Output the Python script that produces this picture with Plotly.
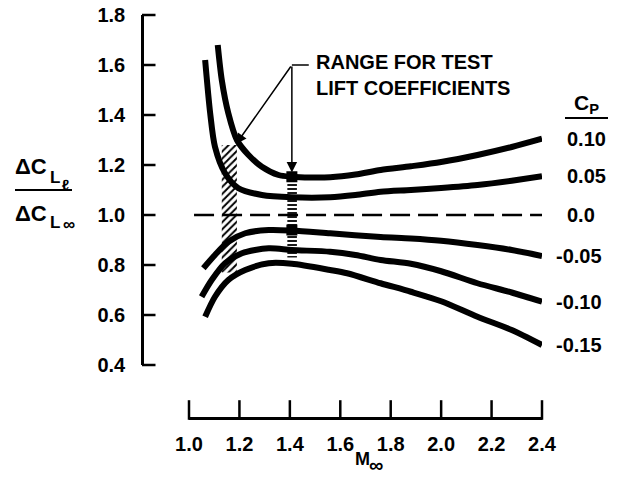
import plotly.graph_objects as go

# ---------------- data ----------------
cp_labels = ["0.10", "0.05", "-0.05", "-0.10", "-0.15"]

mach_a = [1.114, 1.13, 1.156, 1.19, 1.236, 1.289, 1.355, 1.408, 1.48, 1.56, 1.66, 1.76, 1.88, 2.0, 2.144, 2.28, 2.4]
ratio_a = [1.68, 1.54, 1.407, 1.30, 1.24, 1.193, 1.16, 1.153, 1.15, 1.151, 1.162, 1.18, 1.195, 1.212, 1.24, 1.272, 1.305]

mach_b = [1.064, 1.084, 1.103, 1.143, 1.196, 1.289, 1.408, 1.56, 1.66, 1.76, 1.88, 2.0, 2.144, 2.28, 2.4]
ratio_b = [1.62, 1.407, 1.273, 1.167, 1.107, 1.08, 1.071, 1.071, 1.08, 1.093, 1.10, 1.108, 1.12, 1.137, 1.155]

mach_c = [1.057, 1.103, 1.156, 1.223, 1.316, 1.408, 1.56, 1.76, 1.88, 2.0, 2.144, 2.28, 2.4]
ratio_c = [0.787, 0.84, 0.893, 0.927, 0.94, 0.938, 0.927, 0.912, 0.906, 0.897, 0.88, 0.86, 0.836]

mach_d = [1.05, 1.09, 1.143, 1.21, 1.316, 1.408, 1.56, 1.66, 1.76, 1.88, 2.0, 2.144, 2.28, 2.4]
ratio_d = [0.673, 0.74, 0.807, 0.847, 0.867, 0.86, 0.853, 0.84, 0.82, 0.805, 0.775, 0.727, 0.69, 0.653]

mach_e = [1.064, 1.103, 1.156, 1.223, 1.316, 1.408, 1.56, 1.627, 1.76, 1.88, 2.0, 2.144, 2.28, 2.4]
ratio_e = [0.593, 0.673, 0.74, 0.78, 0.807, 0.805, 0.78, 0.767, 0.727, 0.693, 0.655, 0.593, 0.54, 0.48]

ref_x = [1.02, 2.4]
ref_y = [1.0, 1.0]

# hatched bands (range for test lift coefficients)
diag_band_x = [1.13, 1.19, 1.19, 1.13, 1.13]
diag_band_y = [0.77, 0.77, 1.28, 1.28, 0.77]
horiz_band_x = [1.39, 1.428, 1.428, 1.39, 1.39]
horiz_band_y = [0.83, 0.83, 1.15, 1.15, 0.83]
square_x = [1.408, 1.408]
square_y = [1.153, 0.94]

apex = (1.408, 1.6)
leader_end_x = 1.475
tip_diag = (1.187, 1.284)
tip_vert = (1.408, 1.17)

x_ticks = [1.0, 1.2, 1.4, 1.6, 1.8, 2.0, 2.2, 2.4]
y_ticks = [0.4, 0.6, 0.8, 1.0, 1.2, 1.4, 1.6, 1.8]

# ---------------- layout geometry (screen pixels; page body has an 8px margin) ----------------
OFF = 8
W, H = 625 - OFF, 483 - OFF
X_LEFT, X_RIGHT = 189, 542          # screen px of M = 1.0 and 2.4
Y_AXIS_X = 142                       # screen px of the vertical axis line
Y_TOP, Y_04, X_AXIS_Y = 15, 365, 417  # screen px of 1.8, 0.4 and the horizontal axis line
TICK_LEN = 14
ML = Y_AXIS_X - OFF
MR = W - (X_RIGHT - OFF)
MT = Y_TOP - OFF
MB = H - (X_AXIS_Y - OFF)
PW, PH = W - ML - MR, H - MT - MB


def px(xp):
    return (xp - OFF - ML) / PW


def py(yp):
    return (H - MB - (yp - OFF)) / PH


y_per_px = (1.8 - 0.4) / (Y_04 - Y_TOP)
y_bottom = 0.4 - (X_AXIS_Y - Y_04) * y_per_px
y2_lo, y2_hi = y_ticks[0], y_ticks[-1]

FONT = "Liberation Sans"
BOLD = dict(family=FONT, color="black", weight="bold")

fig = go.Figure()

# dummy trace so that the visible (short) y axis exists
fig.add_trace(go.Scatter(x=[None], y=[None], xaxis="x", yaxis="y2", showlegend=False,
                         hoverinfo="skip"))

# hatch bands
fig.add_trace(go.Scatter(x=diag_band_x, y=diag_band_y, mode="lines", fill="toself",
                         line=dict(width=0, color="rgba(0,0,0,0)"),
                         fillcolor="rgba(0,0,0,0)",
                         fillpattern=dict(shape="/", size=5, solidity=0.4,
                                          fgcolor="black", bgcolor="rgba(0,0,0,0)"),
                         hoverinfo="skip", showlegend=False))
fig.add_trace(go.Scatter(x=horiz_band_x, y=horiz_band_y, mode="lines", fill="toself",
                         line=dict(width=0, color="rgba(0,0,0,0)"),
                         fillcolor="rgba(0,0,0,0)",
                         fillpattern=dict(shape="-", size=4, solidity=0.45,
                                          fgcolor="black", bgcolor="rgba(0,0,0,0)"),
                         hoverinfo="skip", showlegend=False))

# dashed reference line
fig.add_trace(go.Scatter(x=ref_x, y=ref_y, mode="lines",
                         line=dict(color="black", width=2.5, dash="20px,8px"),
                         showlegend=False, hoverinfo="skip"))

curves = [(mach_a, ratio_a), (mach_b, ratio_b), (mach_c, ratio_c),
          (mach_d, ratio_d), (mach_e, ratio_e)]
for (mx, ry), lab in zip(curves, cp_labels):
    fig.add_trace(go.Scatter(x=mx, y=ry, mode="lines", name=lab,
                             line=dict(color="black", width=6, shape="spline", smoothing=0.8),
                             showlegend=False))

fig.add_trace(go.Scatter(x=square_x, y=square_y, mode="markers",
                         marker=dict(symbol="square", size=11, color="black"),
                         showlegend=False, hoverinfo="skip"))

# x tick marks (pointing up into the chart, as in the reference)
fig.add_trace(go.Scatter(x=x_ticks, y=[y_bottom + TICK_LEN / 2 * y_per_px] * len(x_ticks),
                         mode="markers", cliponaxis=False, hoverinfo="skip", showlegend=False,
                         marker=dict(symbol="line-ns", size=TICK_LEN,
                                     line=dict(color="black", width=2.5))))
# y tick marks (pointing right from the vertical axis line), drawn as head-less arrows
for v in y_ticks:
    fig.add_annotation(x=0, y=v, xref="paper", yref="y", text="", showarrow=True,
                       ax=TICK_LEN + 1, ay=0, arrowhead=0, arrowwidth=2.5,
                       arrowcolor="black", standoff=0, startstandoff=0)

# Cp labels at the curve ends
ends = [(ry[-1], lab) for (mx, ry), lab in zip(curves, cp_labels)] + [(ref_y[-1], "0.0")]
for yv, lab in ends:
    neg = lab.startswith("-")
    fig.add_annotation(x=2.4, y=yv, xref="x", yref="y", text=lab, showarrow=False,
                       xanchor="left", yanchor="middle", xshift=12 if neg else 23,
                       font=dict(size=20, **BOLD))

# Cp header
fig.add_annotation(x=px(586), y=py(104), xref="paper", yref="paper", text="C<sub>P</sub>",
                   showarrow=False, xanchor="center", yanchor="middle",
                   font=dict(size=21, **BOLD))
fig.add_shape(type="line", xref="paper", yref="paper", x0=px(565), x1=px(608),
              y0=py(118), y1=py(118), line=dict(color="black", width=2))

# range annotation
fig.add_shape(type="line", xref="x", yref="y", x0=apex[0], x1=leader_end_x,
              y0=apex[1], y1=apex[1], line=dict(color="black", width=1.5))
fig.add_annotation(x=1.497, y=1.56, xref="x", yref="y",
                   text="RANGE FOR TEST<br>LIFT COEFFICIENTS", showarrow=False,
                   xanchor="left", yanchor="middle", align="left",
                   font=dict(size=20, **BOLD))
for tip in (tip_diag, tip_vert):
    fig.add_annotation(x=tip[0], y=tip[1], ax=apex[0], ay=apex[1], xref="x", yref="y",
                       axref="x", ayref="y", text="", showarrow=True, arrowhead=2,
                       arrowsize=1.4, arrowwidth=1.5, arrowcolor="black", standoff=0)


def txt(xp, yp, s, size, anchor="left"):
    fig.add_annotation(x=px(xp), y=py(yp), xref="paper", yref="paper", text=s,
                       showarrow=False, xanchor=anchor, yanchor="middle",
                       font=dict(size=size, **BOLD))


# y-axis title (fraction)
txt(13, 166, "ΔC", 22)
txt(48, 177, "L", 17)
txt(60, 184, "ℓ", 15)
fig.add_shape(type="line", xref="paper", yref="paper", x0=px(15), x1=px(72),
              y0=py(190), y1=py(190), line=dict(color="black", width=2))
txt(13, 213, "ΔC", 22)
txt(48, 222, "L", 17)
txt(61, 224, "∞", 17)

# x-axis title
txt(353, 459, "M", 18)
txt(367, 465, "∞", 20)

fig.update_layout(
    template="none",
    width=W, height=H,
    margin=dict(l=ML, r=MR, t=MT, b=MB, autoexpand=False),
    paper_bgcolor="white", plot_bgcolor="rgba(0,0,0,0)",
    showlegend=False,
    xaxis=dict(range=[1.0, 2.4], domain=[px(X_LEFT), 1.0], anchor="y", automargin=False,
               tickvals=x_ticks, ticktext=[f"{v:.1f}" for v in x_ticks],
               ticks="", showline=True, linecolor="black", linewidth=2.5,
               ticklabeloverflow="allow", ticklabelstandoff=7,
               showgrid=False, zeroline=False,
               tickfont=dict(size=20, **BOLD)),
    # data axis: full height, hidden
    yaxis=dict(range=[y_bottom, 1.8], domain=[0, 1], anchor="x", automargin=False,
               showline=False, ticks="", showticklabels=False,
               showgrid=False, zeroline=False),
    # visible axis: only 0.4 .. 1.8, placed at the left edge
    yaxis2=dict(range=[y2_lo, y2_hi], domain=[py(Y_04), 1.0], anchor="free", position=0,
                automargin=False,
                tickvals=y_ticks, ticktext=[f"{v:.1f}" for v in y_ticks],
                ticks="", showline=True, linecolor="black", linewidth=2.5,
                ticklabeloverflow="allow", ticklabelstandoff=12,
                showgrid=False, zeroline=False,
                tickfont=dict(size=20, **BOLD)),
)

fig.write_html("out.html")
